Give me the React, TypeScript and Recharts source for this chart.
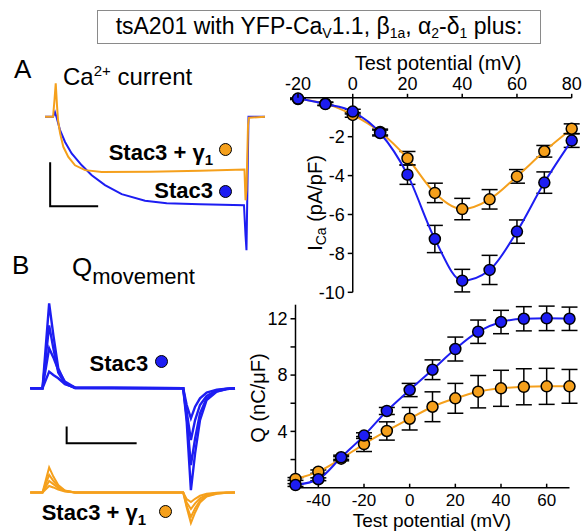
import React from "react";
import {
  ComposedChart,
  LineChart,
  Line,
  XAxis,
  YAxis,
  ErrorBar,
  ReferenceLine,
} from "recharts";

const BLUE = "#1d1df2";
const ORANGE = "#f5a01c";
const FONT = '"Liberation Sans", Arial, Helvetica, sans-serif';

// I-V relationship (Test potential in mV, I_Ca in pA/pF)
const ivVolt = [-20, -10, 0, 10, 20, 30, 40, 50, 60, 70, 80];
const ivStac3 = [-0.04, -0.32, -0.71, -1.81, -3.95, -7.26, -9.4, -8.85, -6.88, -4.36, -2.2];
const ivStac3Err = [0.03, 0.08, 0.12, 0.15, 0.5, 0.7, 0.58, 0.75, 0.6, 0.55, 0.35];
const ivGamma = [-0.06, -0.3, -0.88, -1.76, -3.11, -4.89, -5.72, -5.22, -4.04, -2.75, -1.59];
const ivGammaErr = [0.03, 0.08, 0.12, 0.15, 0.35, 0.5, 0.55, 0.5, 0.35, 0.3, 0.25];

// Q-V relationship (Test potential in mV, Q in nC/uF)
const qvVolt = [-50, -40, -30, -20, -10, 0, 10, 20, 30, 40, 50, 60, 70];
const qvStac3 = [0.19, 0.6, 2.16, 3.7, 5.45, 6.94, 8.38, 9.85, 11.08, 11.77, 12.0, 12.03, 12.0];
const qvStac3Err = [0.1, 0.1, 0.15, 0.2, 0.25, 0.47, 0.7, 0.85, 0.83, 0.83, 0.86, 0.87, 0.83];
const qvGamma = [0.62, 1.14, 2.06, 3.1, 4.03, 4.9, 5.75, 6.35, 6.82, 7.06, 7.17, 7.2, 7.2];
const qvGammaErr = [0.1, 0.12, 0.15, 0.53, 0.65, 0.8, 1.06, 1.06, 1.15, 1.28, 1.28, 1.28, 1.2];

// Ca2+ current traces (time in ms, current in pA/pF)
const caStac3T = [15.6, 24.0, 26.0, 27.6, 31.3, 36.5, 43.4, 53.9, 64.3, 78.1, 95.5, 119.8, 142.4, 177.1, 222.9, 224.5, 225.5, 226.6, 227.6, 244.8];
const caStac3I = [0, 0, 0.21, -0.01, -0.6, -1.14, -1.66, -2.2, -2.65, -3.1, -3.51, -3.81, -3.92, -3.97, -4.01, -5.38, -6.06, -2.88, 0, 0];
const caGammaT = [15.6, 24.0, 25.5, 26.8, 28.1, 29.2, 31.3, 34.7, 39.9, 46.9, 57.3, 74.7, 125, 177.1, 223.4, 224.5, 225.5, 227.1, 228.1, 244.8];
const caGammaI = [0, 0, 0.76, 1.52, 0.53, -0.15, -0.74, -1.36, -1.82, -2.2, -2.42, -2.5, -2.49, -2.45, -2.39, -3.79, -3.33, -0.38, -0.04, 0];

// charge movement traces (time in ms, shared sampling times)
const qTime = [1.5, 5.0, 6.9, 8.1, 9.5, 11.4, 14.3, 45.2, 46.2, 47.4, 48.6, 50.0, 51.9, 54.8, 57.6, 60.0];
const qStac3Traces = [
  [0, 0, 5.09, 3.19, 1.2, 0.32, 0.02, 0, -2.0, -6.1, -3.9, -1.9, -0.7, -0.2, -0.05, 0],
  [0, 0, 3.77, 2.4, 0.95, 0.28, 0.02, 0, -1.7, -4.6, -3.0, -1.5, -0.6, -0.18, -0.05, 0],
  [0, 0, 2.4, 1.85, 1.1, 0.4, 0.05, 0, -1.4, -3.1, -1.9, -1.0, -0.45, -0.12, -0.03, 0],
  [0, 0, 1.0, 0.8, 0.6, 0.25, 0.05, 0, -1.0, -1.8, -1.1, -0.6, -0.25, -0.08, -0.02, 0],
];
const qGammaTraces = [
  [0, 0, 1.5, 0.95, 0.45, 0.12, 0, 0, -0.9, -1.83, -1.2, -0.6, -0.25, -0.08, -0.02, 0],
  [0, 0, 1.05, 0.7, 0.35, 0.1, 0, 0, -0.8, -1.47, -0.95, -0.5, -0.2, -0.06, -0.02, 0],
  [0, 0, 0.69, 0.5, 0.27, 0.08, 0, 0, -0.6, -0.99, -0.65, -0.35, -0.14, -0.04, 0, 0],
  [0, 0, 0.39, 0.3, 0.18, 0.06, 0, 0, -0.4, -0.57, -0.38, -0.2, -0.08, -0.02, 0, 0],
];
const qGammaOffset = -6.24; // orange traces shown below the blue ones

// scale bars: A = 50 ms / 2 pA/pF, B = 20 ms / 1 unit
const caScale = { t: 21, v: -4.06, dt: 50, dv: 2 };
const qScale = { t: 11.9, v: -3.29, dt: 20, dv: 1 };

const ivRows = ivVolt.map((v, i) => ({
  v,
  stac3: ivStac3[i],
  stac3Err: ivStac3Err[i],
  gamma: ivGamma[i],
  gammaErr: ivGammaErr[i],
}));
const qvRows = qvVolt.map((v, i) => ({
  v,
  stac3: qvStac3[i],
  stac3Err: qvStac3Err[i],
  gamma: qvGamma[i],
  gammaErr: qvGammaErr[i],
}));
const caStac3Rows = caStac3T.map((t, i) => ({ t, y: caStac3I[i] }));
const caGammaRows = caGammaT.map((t, i) => ({ t, y: caGammaI[i] }));
const qStac3Rows = qStac3Traces.map((tr) => qTime.map((t, i) => ({ t, y: tr[i] })));
const qGammaRows = qGammaTraces.map((tr) => qTime.map((t, i) => ({ t, y: tr[i] + qGammaOffset })));
const scaleRows = (s: { t: number; v: number; dt: number; dv: number }) => [
  { t: s.t, y: s.v + s.dv },
  { t: s.t, y: s.v },
  { t: s.t + s.dt, y: s.v },
];

const IV_W = 314;
const IV_YAXIS_W = 28;
const IV_RIGHT = 12.3;
const IV_SHIFT = ((IV_W - IV_YAXIS_W - IV_RIGHT) * 20) / 100; // where 0 mV sits

const tickText = { fontFamily: FONT, fontSize: 18, fill: "#000" };

function IvXTick(p: any) {
  return (
    <g>
      <line x1={p.x} x2={p.x} y1={p.y} y2={p.y - 4} stroke="#000" strokeWidth={1.5} />
      <text x={p.x} y={p.y - 8} textAnchor="middle" {...tickText}>
        {p.payload.value}
      </text>
    </g>
  );
}

function IvYTick(p: any) {
  const ax = p.x + IV_SHIFT;
  return (
    <g>
      <line x1={ax - 5} x2={ax} y1={p.y} y2={p.y} stroke="#000" strokeWidth={1.5} />
      <text x={ax - 8} y={p.y} dy="0.35em" textAnchor="end" {...tickText}>
        {p.payload.value}
      </text>
    </g>
  );
}

function QvXTick(p: any) {
  return (
    <g>
      <line x1={p.x} x2={p.x} y1={p.y} y2={p.y - 4} stroke="#000" strokeWidth={1.5} />
      <text x={p.x} y={p.y + 18} textAnchor="middle" {...tickText} fontSize={17}>
        {p.payload.value}
      </text>
    </g>
  );
}

function QvYTick(p: any) {
  return (
    <g>
      <line x1={p.x - 5} x2={p.x} y1={p.y} y2={p.y} stroke="#000" strokeWidth={1.5} />
      {p.payload.value % 4 === 0 && (
        <text x={p.x - 8} y={p.y} dy="0.35em" textAnchor="end" {...tickText}>
          {p.payload.value}
        </text>
      )}
    </g>
  );
}

const dotStyle = (c: string) => ({ r: 5.5, fill: c, stroke: "#000", strokeWidth: 1.5 });
const errStyle = { width: 8, stroke: "#000", strokeWidth: 1.5 };

function Txt(props: any) {
  const { left, right, top, size, bold, width, align, children } = props;
  return (
    <div
      style={{
        position: "absolute",
        left,
        right,
        top,
        width,
        textAlign: align,
        fontFamily: FONT,
        fontSize: size,
        fontWeight: bold ? 700 : 400,
        lineHeight: 1,
        whiteSpace: "nowrap",
        color: "#000",
      }}
    >
      {children}
    </div>
  );
}

function Sub({ size, shift, children }: any) {
  return <span style={{ fontSize: size, position: "relative", top: shift }}>{children}</span>;
}

function Marker({ cx, cy, color }: any) {
  return (
    <div
      style={{
        position: "absolute",
        left: cx - 6.5,
        top: cy - 6.5,
        width: 13,
        height: 13,
        borderRadius: "50%",
        background: color,
        border: "1.5px solid #000",
        boxSizing: "border-box",
      }}
    />
  );
}

function RotLabel({ cx, cy, size, children }: any) {
  return (
    <div
      style={{
        position: "absolute",
        left: cx - 100,
        top: cy - 12,
        width: 200,
        height: 24,
        lineHeight: "24px",
        textAlign: "center",
        transform: "rotate(-90deg)",
        fontFamily: FONT,
        fontSize: size,
        whiteSpace: "nowrap",
      }}
    >
      {children}
    </div>
  );
}

export default function App() {
  return (
    <div
      style={{
        position: "absolute",
        left: 0,
        top: 0,
        width: 584,
        height: 531,
        background: "#fff",
        overflow: "hidden",
      }}
    >
      {/* title box */}
      <div
        style={{
          position: "absolute",
          left: 97,
          top: 10,
          width: 444,
          height: 34,
          border: "1px solid #8a8a8a",
          boxSizing: "border-box",
          fontFamily: FONT,
          fontSize: 23,
          lineHeight: "31px",
          textAlign: "center",
          whiteSpace: "nowrap",
        }}
      >
        tsA201 with YFP-Ca<Sub size={14} shift={4}>V</Sub>1.1, β<Sub size={14} shift={4}>1a</Sub>, α
        <Sub size={14} shift={4}>2</Sub>-δ<Sub size={14} shift={4}>1</Sub> plus:
      </div>

      <Txt left={14} top={56} size={26}>A</Txt>
      <Txt left={63} top={65} size={24}>
        Ca<Sub size={15} shift={-9}>2+</Sub> current
      </Txt>
      <Txt left={12} top={252} size={26}>B</Txt>
      <Txt left={72} top={254} size={26}>
        Q<Sub size={22} shift={8}>movement</Sub>
      </Txt>

      {/* Ca current traces */}
      <div style={{ position: "absolute", left: 30, top: 75 }}>
        <LineChart width={240} height={185} margin={{ top: 0, right: 0, bottom: 0, left: 0 }}>
          <XAxis type="number" dataKey="t" domain={[0, 250]} hide />
          <YAxis type="number" domain={[-6.5, 1.9]} hide />
          <Line data={scaleRows(caScale)} dataKey="y" type="linear" stroke="#000" strokeWidth={2} dot={false} isAnimationActive={false} />
          <Line data={caStac3Rows} dataKey="y" type="linear" stroke={BLUE} strokeWidth={2} dot={false} isAnimationActive={false} />
          <Line data={caGammaRows} dataKey="y" type="linear" stroke={ORANGE} strokeWidth={2} dot={false} isAnimationActive={false} />
        </LineChart>
      </div>
      <Txt right={584 - 213} top={141.5} size={22} bold>
        Stac3 + γ<Sub size={15} shift={5}>1</Sub>
      </Txt>
      <Marker cx={225} cy={149} color={ORANGE} />
      <Txt right={584 - 213} top={180} size={22} bold>
        Stac3
      </Txt>
      <Marker cx={225.7} cy={191} color={BLUE} />

      {/* I-V plot */}
      <div style={{ position: "absolute", left: 270, top: 40 }}>
        <ComposedChart width={IV_W} height={270} data={ivRows} margin={{ top: 0, right: IV_RIGHT, bottom: 17.7, left: 0 }}>
          <XAxis
            type="number"
            dataKey="v"
            orientation="top"
            domain={[-20, 80]}
            ticks={[-20, 0, 20, 40, 60, 80]}
            interval={0}
            height={57.8}
            axisLine={{ stroke: "#000", strokeWidth: 1.5 }}
            tickLine={false}
            tickSize={0}
            tickMargin={0}
            tick={(p: any) => <IvXTick {...p} />}
          />
          <YAxis
            type="number"
            domain={[-10, 0]}
            ticks={[-10, -8, -6, -4, -2]}
            interval={0}
            width={IV_YAXIS_W}
            axisLine={false}
            tickLine={false}
            tickSize={0}
            tickMargin={0}
            tick={(p: any) => <IvYTick {...p} />}
          />
          <ReferenceLine x={0} stroke="#000" strokeWidth={1.5} />
          <Line dataKey="gamma" type="monotone" stroke={ORANGE} strokeWidth={2} dot={dotStyle(ORANGE)} isAnimationActive={false}>
            <ErrorBar dataKey="gammaErr" {...errStyle} />
          </Line>
          <Line dataKey="stac3" type="monotone" stroke={BLUE} strokeWidth={2} dot={dotStyle(BLUE)} isAnimationActive={false}>
            <ErrorBar dataKey="stac3Err" {...errStyle} />
          </Line>
        </ComposedChart>
      </div>
      <Txt left={338} width={200} align="center" top={53} size={20}>
        Test potential (mV)
      </Txt>
      <RotLabel cx={315} cy={203} size={20}>
        I<Sub size={14} shift={4}>Ca</Sub> (pA/pF)
      </RotLabel>

      {/* charge movement traces */}
      <div style={{ position: "absolute", left: 25, top: 290 }}>
        <LineChart width={217} height={241} margin={{ top: 0, right: 0, bottom: 0, left: 0 }}>
          <XAxis type="number" dataKey="t" domain={[0, 62]} hide />
          <YAxis type="number" domain={[-8.55, 5.89]} hide />
          <Line data={scaleRows(qScale)} dataKey="y" type="linear" stroke="#000" strokeWidth={2} dot={false} isAnimationActive={false} />
          {qStac3Rows.map((rows, i) => (
            <Line key={"b" + i} data={rows} dataKey="y" type="linear" stroke={BLUE} strokeWidth={2.4} dot={false} isAnimationActive={false} />
          ))}
          {qGammaRows.map((rows, i) => (
            <Line key={"o" + i} data={rows} dataKey="y" type="linear" stroke={ORANGE} strokeWidth={2} dot={false} isAnimationActive={false} />
          ))}
        </LineChart>
      </div>
      <Txt right={584 - 148.3} top={352.5} size={22} bold>
        Stac3
      </Txt>
      <Marker cx={161} cy={361} color={BLUE} />
      <Txt left={41.7} top={501.5} size={22} bold>
        Stac3 + γ<Sub size={15} shift={5}>1</Sub>
      </Txt>
      <Marker cx={165} cy={511.7} color={ORANGE} />

      {/* Q-V plot */}
      <div style={{ position: "absolute", left: 230, top: 290 }}>
        <ComposedChart width={354} height={241} data={qvRows} margin={{ top: 14.7, right: 14.5, bottom: 0, left: 0 }}>
          <XAxis
            type="number"
            dataKey="v"
            domain={[-50, 70]}
            ticks={[-40, -20, 0, 20, 40, 60]}
            interval={0}
            height={43.3}
            axisLine={{ stroke: "#000", strokeWidth: 1.5 }}
            tickLine={false}
            tickSize={0}
            tickMargin={0}
            tick={(p: any) => <QvXTick {...p} />}
          />
          <YAxis
            type="number"
            domain={[0, 13]}
            ticks={[2, 4, 6, 8, 10, 12]}
            interval={0}
            width={65.5}
            axisLine={{ stroke: "#000", strokeWidth: 1.5 }}
            tickLine={false}
            tickSize={0}
            tickMargin={0}
            tick={(p: any) => <QvYTick {...p} />}
          />
          <Line dataKey="gamma" type="monotone" stroke={ORANGE} strokeWidth={2} dot={dotStyle(ORANGE)} isAnimationActive={false}>
            <ErrorBar dataKey="gammaErr" {...errStyle} />
          </Line>
          <Line dataKey="stac3" type="monotone" stroke={BLUE} strokeWidth={2} dot={dotStyle(BLUE)} isAnimationActive={false}>
            <ErrorBar dataKey="stac3Err" {...errStyle} />
          </Line>
        </ComposedChart>
      </div>
      <RotLabel cx={258} cy={398} size={20}>
        Q (nC/μF)
      </RotLabel>
      <Txt left={332} width={200} align="center" top={511} size={19}>
        Test potential (mV)
      </Txt>
    </div>
  );
}
